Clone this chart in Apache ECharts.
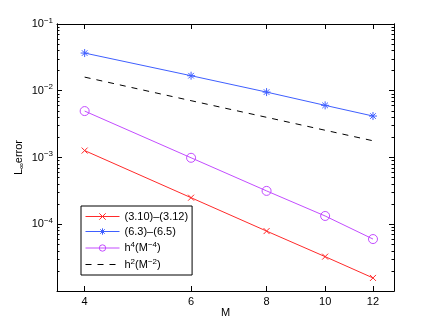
<!DOCTYPE html>
<html style="height: 100%">
   <head>
       <meta charset="utf-8">
   </head>
   <body style="height: 100%; margin: 0">
       <div id="container" style="height: 100%"></div>
       <script type="text/javascript" src="https://cdn.jsdelivr.net/npm/echarts@6/dist/echarts.min.js"></script>
       <script type="text/javascript">
var M = [4, 6, 8, 10, 12];
var errA = [1.27e-3, 2.5e-4, 7.9e-5, 3.27e-5, 1.57e-5];   // (3.10)-(3.12)
var errB = [3.67e-2, 1.68e-2, 9.55e-3, 6.04e-3, 4.18e-3]; // (6.3)-(6.5)
var ref4 = [4.96e-3, 9.9e-4, 3.16e-4, 1.33e-4, 6.0e-5];   // h^4
var ref2 = [1.6e-2, 7.1e-3, 4.0e-3, 2.56e-3, 1.78e-3];    // h^2
var names = ['(3.10)\u2013(3.12)', '(6.3)\u2013(6.5)', 'h4(M-4)', 'h2(M-2)'];
var xTicks = [4, 6, 8, 10, 12];
var yMajor = [1e-5, 1e-4, 1e-3, 1e-2, 1e-1];
var yLabels = [1e-4, 1e-3, 1e-2, 1e-1];

var yMinor = [];
yMajor.slice(0, 4).forEach(function (p) {
    for (var k = 2; k <= 9; k++) yMinor.push(p * k);
});

var font = 'Liberation Sans, Arial, sans-serif';
var dom = document.getElementById("container");
var myChart = echarts.init(dom);

function pairs(ys) {
    return M.map(function (m, i) { return [m, ys[i]]; });
}
function yLabel(v) {
    var e = Math.round(Math.log10(v));
    return '{b|10}{s|' + (e < 0 ? '\u2212' + (-e) : e) + '}';
}
var supRich = {
    b: {fontSize: 11, fontFamily: font, color: '#000'},
    s: {fontSize: 8, fontFamily: font, color: '#000', padding: [0, 0, 7, 0]}
};

function yAxis(pos, minor, labels) {
    return {
        type: 'log', logBase: 10, min: 1e-5, max: 1e-1, position: pos,
        axisLine: {show: true, onZero: false, lineStyle: {color: '#000', width: 1}},
        axisTick: {show: true, inside: true, length: minor ? 2.5 : 5,
            customValues: minor ? yMinor : yMajor,
            lineStyle: {color: '#000', width: 1}},
        axisLabel: {show: labels, customValues: yLabels, formatter: yLabel, margin: 4, rich: supRich},
        splitLine: {show: false}
    };
}
function xAxis(pos, labels) {
    return {
        type: 'log', logBase: 10, min: 3.6, max: 13, position: pos,
        name: labels ? 'M' : '', nameLocation: 'middle', nameGap: 16,
        nameMoveOverlap: false,
        nameTextStyle: {fontFamily: font, fontSize: 11, color: '#000'},
        axisLine: {show: true, onZero: false, lineStyle: {color: '#000', width: 1}},
        axisTick: {show: true, inside: true, length: 5, customValues: xTicks,
            lineStyle: {color: '#000', width: 1}},
        axisLabel: {show: labels, customValues: xTicks, margin: 5,
            fontFamily: font, fontSize: 11, color: '#000'},
        splitLine: {show: false}
    };
}

var yMain = yAxis('left', false, true);
yMain.name = 'L{sub|\u221e}error';
yMain.nameLocation = 'middle';
yMain.nameGap = 31;
yMain.nameMoveOverlap = false;
yMain.nameTextStyle = {
    fontFamily: font, fontSize: 11, color: '#000',
    rich: {sub: {fontFamily: font, fontSize: 8, color: '#000', padding: [6, 0, 0, 0]}}
};

var cross = 'path://M0,0L10,10M10,0L0,10';
var star = 'path://M5,0L5,10M0,5L10,5M1.5,1.5L8.5,8.5M8.5,1.5L1.5,8.5';
function line(name, data, color, symbol, size, dashed) {
    return {
        name: name, type: 'line', data: pairs(data),
        xAxisIndex: 0, yAxisIndex: 0,
        symbol: symbol, symbolSize: size, showSymbol: symbol !== 'none',
        lineStyle: {color: color, width: 1, type: dashed ? [6, 6] : 'solid'},
        itemStyle: {color: 'rgba(0,0,0,0)', borderColor: color, borderWidth: 1},
        animation: false
    };
}

var option = {
    animation: false,
    backgroundColor: '#fff',
    grid: {left: 57, right: 42, top: 24, bottom: 37},
    xAxis: [xAxis('bottom', true), xAxis('top', false)],
    yAxis: [yMain, yAxis('left', true, false), yAxis('right', false, false), yAxis('right', true, false)],
    legend: {
        orient: 'vertical', left: 81, top: 206,
        padding: [5, 4, 5, 4], itemGap: 4, itemWidth: 34, itemHeight: 8,
        borderColor: '#000', borderWidth: 1, backgroundColor: '#fff',
        lineStyle: {width: 1},
        itemStyle: {borderWidth: 1},
        data: [names[0], names[1], names[2], {name: names[3], itemStyle: {opacity: 0}}],
        formatter: function (n) {
            if (n === names[2]) return 'h{s|4}(M{s|\u22124})';
            if (n === names[3]) return 'h{s|2}(M{s|\u22122})';
            return n;
        },
        textStyle: {fontFamily: font, fontSize: 11, color: '#000', rich: {
            s: {fontFamily: font, fontSize: 8, color: '#000', padding: [0, 0, 6, 0]}
        }}
    },
    series: [
        line(names[0], errA, '#ff2a2a', cross, 6, false),
        line(names[1], errB, '#3f5fff', star, 8, false),
        line(names[2], ref4, '#c34cff', 'circle', 9, false),
        line(names[3], ref2, '#000000', 'none', 0, true)
    ]
};
myChart.setOption(option);
       </script>
   </body>
</html>
